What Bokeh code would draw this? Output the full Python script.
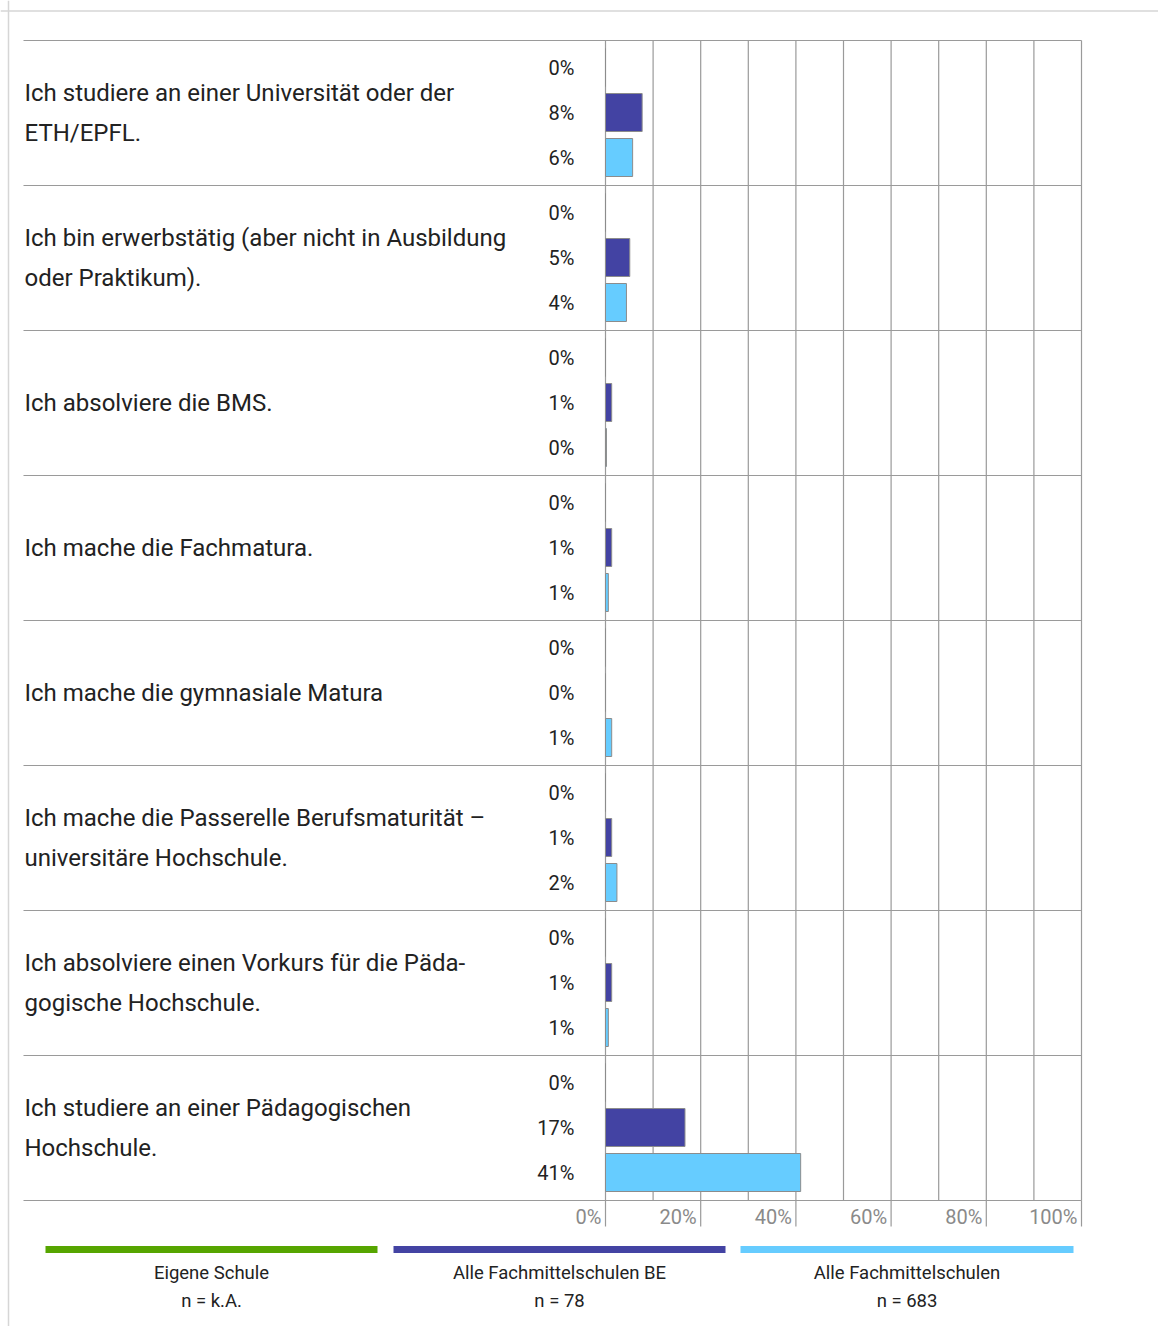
from bokeh.plotting import figure
from bokeh.models import ColumnDataSource, Range1d, Span
from bokeh.core.properties import value
from bokeh.embed import file_html
from bokeh.resources import INLINE

# ---------------- data ----------------
categories = [
    "Ich studiere an einer Universität oder der\nETH/EPFL.",
    "Ich bin erwerbstätig (aber nicht in Ausbildung\noder Praktikum).",
    "Ich absolviere die BMS.",
    "Ich mache die Fachmatura.",
    "Ich mache die gymnasiale Matura",
    "Ich mache die Passerelle Berufsmaturität –\nuniversitäre Hochschule.",
    "Ich absolviere einen Vorkurs für die Päda-\ngogische Hochschule.",
    "Ich studiere an einer Pädagogischen\nHochschule.",
]
series_names = ["Eigene Schule", "Alle Fachmittelschulen BE", "Alle Fachmittelschulen"]
series_n = ["n = k.A.", "n = 78", "n = 683"]
eigene_schule = [0, 0, 0, 0, 0, 0, 0, 0]
alle_fms_be = [7.7, 5.1, 1.3, 1.3, 0, 1.3, 1.3, 16.7]
alle_fms = [5.7, 4.4, 0.2, 0.6, 1.3, 2.4, 0.6, 41.0]
eigene_labels = ["0%", "0%", "0%", "0%", "0%", "0%", "0%", "0%"]
be_labels = ["8%", "5%", "1%", "1%", "0%", "1%", "1%", "17%"]
alle_labels = ["6%", "4%", "0%", "1%", "1%", "2%", "1%", "41%"]
grid_ticks = [0, 10, 20, 30, 40, 50, 60, 70, 80, 90, 100]
axis_ticks = [0, 20, 40, 60, 80, 100]
axis_labels = ["0%", "20%", "40%", "60%", "80%", "100%"]

colors = ["#56a500", "#4343a3", "#66ccff"]

# ---------------- layout helpers (page pixel -> data) ----------------
W, H = 1158, 1326
X0PX, PXPC = 605.0, 4.76
ROW_TOP, ROW_H = 40.0, 145.0


def dx(px):
    return (px - X0PX) / PXPC


def dy(py):
    return (py - ROW_TOP) / ROW_H


FONT = value("Roboto")
sub_off = [27 / ROW_H, 72 / ROW_H, 117 / ROW_H]
bar_h = 38 / ROW_H

p = figure(width=W, height=H, output_backend="svg", toolbar_location=None,
           x_range=Range1d(dx(0), dx(W)),
           y_range=Range1d(dy(H), dy(0)),
           min_border=0, outline_line_color=None)
p.axis.visible = False
p.grid.visible = False
p.background_fill_color = "white"
p.border_fill_color = "white"

# card border (top and left)
p.add_layout(Span(location=dy(10.5), dimension="width", line_color="#d6d6d6", line_width=1.5))
p.add_layout(Span(location=dx(8), dimension="height", line_color="#d6d6d6", line_width=1.5))

n = len(categories)
rows = list(range(n))

# grid lines
p.segment(x0=grid_ticks, x1=grid_ticks, y0=[0] * len(grid_ticks), y1=[n] * len(grid_ticks),
          line_color="#9a9a9a", line_width=1.2)
p.segment(x0=axis_ticks, x1=axis_ticks, y0=[n] * len(axis_ticks),
          y1=[dy(1226)] * len(axis_ticks), line_color="#9a9a9a", line_width=1.2)
# row separators
seps = list(range(n + 1))
p.segment(x0=[dx(23)] * len(seps), x1=[100] * len(seps), y0=seps, y1=seps,
          line_color="#9a9a9a", line_width=1.2)

# bars + value labels
all_vals = [eigene_schule, alle_fms_be, alle_fms]
all_labels = [eigene_labels, be_labels, alle_labels]
for k in range(3):
    ys = [r + sub_off[k] for r in rows]
    src = ColumnDataSource(dict(y=ys, v=all_vals[k], lab=all_labels[k]))
    p.hbar(y="y", left=0, right="v", height=bar_h, source=src,
           fill_color=colors[k], line_color="#8c8c8c", line_width=1)
    p.text(x=0, y="y", text="lab", source=src, x_offset=-31,
           text_align="right", text_baseline="middle",
           text_font=FONT, text_font_size="20px", text_color="#222222")

# category labels
csrc = ColumnDataSource(dict(y=[r + 0.5 for r in rows], t=categories))
p.text(x=dx(24), y="y", text="t", source=csrc,
       text_align="left", text_baseline="middle", text_line_height=1.43,
       text_font=FONT, text_font_size="24px", text_color="#222222")

# x axis labels
p.text(x=axis_ticks, y=[dy(1216)] * len(axis_ticks), text=axis_labels, x_offset=-4,
       text_align="right", text_baseline="middle",
       text_font=FONT, text_font_size="20px", text_color="#8a8a8a")

# legend
leg_x0 = [dx(45), dx(393), dx(740)]
leg_x1 = [dx(377), dx(725), dx(1073)]
leg_xc = [(a + b) / 2 for a, b in zip(leg_x0, leg_x1)]
p.segment(x0=leg_x0, x1=leg_x1, y0=[dy(1249)] * 3, y1=[dy(1249)] * 3,
          line_color=colors, line_width=7)
p.text(x=leg_xc, y=[dy(1272)] * 3, text=series_names, text_align="center",
       text_baseline="middle", text_font=FONT, text_font_size="18.5px", text_color="#222222")
p.text(x=leg_xc, y=[dy(1300)] * 3, text=series_n, text_align="center",
       text_baseline="middle", text_font=FONT, text_font_size="18.5px", text_color="#222222")

open("out.html", "w").write(file_html(p, INLINE))
